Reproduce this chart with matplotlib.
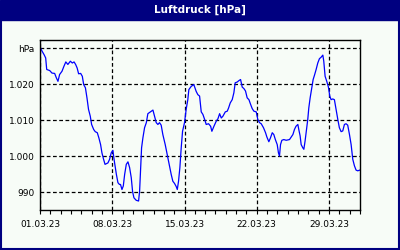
import pandas as pd
import matplotlib
matplotlib.use('Agg')
import matplotlib.pyplot as plt
import matplotlib.dates as mdates
from matplotlib.patches import Rectangle

# days since 01.03.23 and air pressure (hPa)
days = [0.06, 0.2, 0.4, 0.55, 0.65, 0.94, 1.16, 1.42, 1.58, 1.74, 1.9, 2.13, 2.32, 2.5, 2.7,
        2.94, 3.13, 3.3, 3.45, 3.6, 3.74, 3.94, 4.1, 4.23, 4.4, 4.55, 4.7, 4.87, 5.0, 5.2,
        5.35, 5.55, 5.7, 5.87, 6.0, 6.16, 6.3, 6.58, 6.74, 6.9, 7.06, 7.2, 7.4, 7.55, 7.7,
        7.8, 7.94, 8.07, 8.2, 8.36, 8.52, 8.68, 8.84, 8.97, 9.1, 9.32, 9.55, 9.65, 9.74, 9.84,
        9.97, 10.13, 10.3, 10.45, 10.7, 10.94, 11.1, 11.26, 11.42, 11.58, 11.74, 11.9, 12.13,
        12.39, 12.55, 12.71, 12.87, 13.03, 13.2, 13.3, 13.42, 13.55, 13.68, 13.81, 14.0,
        14.16, 14.32, 14.42, 14.65, 14.9, 15.13, 15.29, 15.46, 15.62, 15.78, 15.95, 16.1,
        16.33, 16.53, 16.65, 16.85, 17.07, 17.24, 17.4, 17.56, 17.72, 17.95, 18.14, 18.27,
        18.43, 18.62, 18.78, 18.91, 19.1, 19.27, 19.43, 19.59, 19.75, 19.91, 20.07, 20.24,
        20.4, 20.56, 20.72, 20.95, 21.1, 21.27, 21.43, 21.65, 21.85, 21.98, 22.17, 22.33,
        22.5, 22.65, 22.8, 22.98, 23.1, 23.2, 23.3, 23.43, 23.62, 23.85, 24.17, 24.33, 24.5,
        24.65, 24.8, 24.98, 25.07, 25.2, 25.3, 25.46, 25.56, 25.68, 25.8, 25.94, 26.04,
        26.17, 26.33, 26.46, 26.59, 26.75, 26.91, 27.07, 27.23, 27.4, 27.49, 27.62, 27.78,
        27.94, 28.07, 28.2, 28.36, 28.52, 28.68, 28.85, 29.0, 29.17, 29.33, 29.49, 29.65,
        29.81, 29.98, 30.14, 30.3, 30.46, 30.62, 30.78, 30.98]
pressure = [1030.0, 1029.2, 1028.2, 1027.3, 1024.1, 1023.8, 1023.1, 1023.0, 1021.8, 1020.8,
            1022.7, 1023.6, 1025.0, 1026.2, 1025.5, 1026.4, 1025.9, 1026.2, 1025.5, 1024.5,
            1022.9, 1023.0, 1022.2, 1019.9, 1019.0, 1016.2, 1013.0, 1011.1, 1008.8, 1007.4,
            1006.8, 1006.5, 1005.1, 1003.2, 1000.9, 999.1, 997.7, 998.1, 999.1, 1000.9,
            1001.6, 998.6, 994.9, 992.6, 992.1,
            992.1, 990.7, 991.7, 994.9, 997.7, 998.4, 996.8, 994.0, 990.1, 988.4, 987.7,
            987.5, 990.3, 995.8, 1002.3, 1005.1, 1007.9, 1009.3, 1011.8, 1012.3, 1012.8,
            1011.1, 1009.3, 1008.8, 1009.3, 1008.6, 1006.0, 1003.2, 999.5, 997.2, 994.9,
            993.0, 992.4, 991.5, 990.7, 993.0, 996.8, 1002.3, 1006.9, 1009.3, 1013.0, 1015.7,
            1018.5, 1019.4, 1019.9, 1018.0, 1017.1,
            1016.7, 1012.3, 1011.6, 1010.2, 1008.8, 1009.0, 1008.3, 1006.9, 1008.3, 1009.7,
            1010.4, 1011.8, 1010.6, 1011.1, 1012.3, 1012.5, 1013.4, 1014.8, 1015.7, 1017.6,
            1020.4, 1020.6, 1021.0, 1021.3, 1019.2, 1018.8, 1018.1, 1016.2, 1015.7, 1014.4,
            1013.2, 1012.5, 1012.3, 1010.2, 1009.3, 1009.0, 1007.9, 1006.5, 1005.3, 1004.0,
            1005.1, 1006.5, 1006.0, 1004.6, 1003.2, 1000.9, 1000.0,
            1003.2, 1004.4, 1004.6, 1004.4, 1004.6, 1005.3, 1006.0, 1007.4, 1008.3, 1008.8,
            1007.4, 1005.6, 1003.2, 1002.3, 1001.9, 1004.2, 1006.9, 1010.2, 1013.4, 1016.2,
            1019.0, 1021.3, 1022.5, 1024.1, 1025.9, 1027.1, 1027.5, 1028.1, 1026.4, 1022.2,
            1020.8, 1019.2, 1016.7, 1015.7, 1015.9, 1015.7, 1013.0, 1010.2, 1007.9, 1006.8,
            1007.0, 1008.8, 1009.0, 1008.6, 1006.0, 1003.2, 999.1, 997.3, 996.1, 995.9, 996.1]
yticks = [990, 1000, 1010, 1020, 1030]
ylabels = ['990', '1.000', '1.010', '1.020', 'hPa']
xticks = ['2023-03-01', '2023-03-08', '2023-03-15', '2023-03-22', '2023-03-29']
title = 'Luftdruck [hPa]'

start = pd.Timestamp('2023-03-01')
times = start + pd.to_timedelta(days, unit='D')

bg = '#F7FCF7'
navy = '#000080'

fig = plt.figure(figsize=(4, 2.5), dpi=100, facecolor=bg)
ax = fig.add_axes([0.1, 0.16, 0.8, 0.68], facecolor=bg)

ax.plot(times, pressure, color='#0000FF', lw=0.9)

ax.set_xlim(start, pd.Timestamp('2023-04-01'))
ax.set_ylim(985, 1032.3)
ax.set_yticks(yticks)
ax.set_yticklabels(ylabels)
ax.set_xticks(pd.to_datetime(xticks))
ax.xaxis.set_major_formatter(mdates.DateFormatter('%d.%m.%y'))
ax.xaxis.set_minor_locator(mdates.DayLocator())

ax.grid(True, which='major', color='black', linestyle=(0, (3, 2)), linewidth=0.9)
ax.tick_params(axis='y', length=0, pad=4, labelsize=6.5)
ax.tick_params(axis='x', which='both', direction='out', length=3, width=0.8, pad=4, labelsize=6.5)
for s in ax.spines.values():
    s.set_color('black')
    s.set_linewidth(1)

# title bar and frame
fig.patches.append(Rectangle((0, 0.92), 1, 0.08, transform=fig.transFigure, color=navy, zorder=0))
fig.patches.append(Rectangle((0.002, 0.004), 0.995, 0.99, transform=fig.transFigure,
                             fill=False, edgecolor=navy, linewidth=1.5, zorder=0))
fig.text(0.5, 0.96, title, color='white', fontweight='bold', fontsize=7.5, ha='center', va='center')

fig.savefig('out.png', dpi=100, facecolor=bg)
